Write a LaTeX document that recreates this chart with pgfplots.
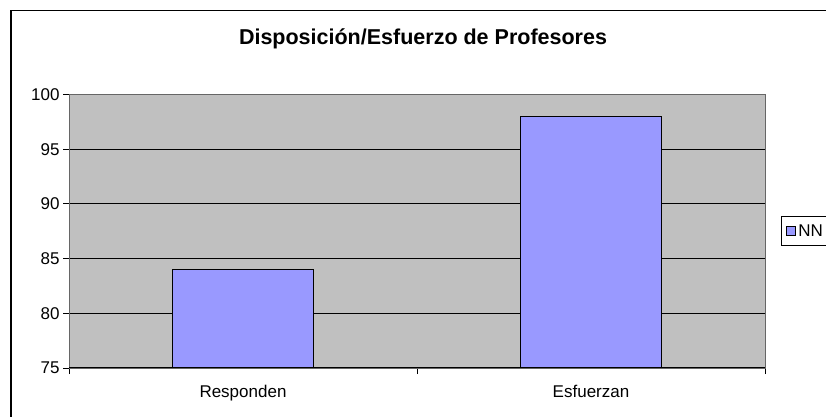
\documentclass[border=0pt]{standalone}
\usepackage{pgfplots}
\pgfplotsset{compat=1.18}
\usepackage{fontspec}
\setmainfont{Liberation Sans}
\definecolor{plotgray}{HTML}{C0C0C0}
\definecolor{barblue}{HTML}{9999FF}
\begin{document}
\begin{tikzpicture}[x=1pt,y=1pt]
\useasboundingbox (0,0) rectangle (826,417);
\clip (0,0) rectangle (826,417);
\fill[white] (0,0) rectangle (826,417);
\draw[line width=1.6pt] (11,-10) -- (11,406.3) -- (840,406.3);
\node[font=\fontsize{21.5}{25}\selectfont\bfseries, anchor=base, inner sep=0pt] at (423,372) {Disposición/Esfuerzo de Profesores};
\begin{axis}[
  at={(69pt,49pt)}, anchor=south west,
  scale only axis, width=696pt, height=273.5pt,
  xmin=0, xmax=2, ymin=75, ymax=100,
  xtick={0,1,2}, x tick label as interval, xticklabels={Responden,Esfuerzan},
  ytick={75,80,...,100},
  ymajorgrids, grid style={black, line width=0.9pt},
  axis background/.style={fill=plotgray},
  axis line style={draw=gray!80!black, line width=0.9pt},
  tick align=outside, major tick length=6pt, tick style={black, line width=0.9pt},
  xtick pos=bottom, ytick pos=left,
  ticklabel style={font=\fontsize{17}{20}\selectfont},
  xticklabel style={yshift=-8pt},
  /pgf/number format/assume math mode=true,
  ybar, bar width=141pt, bar shift=0pt,
  legend style={at={(1.023,0.5)}, anchor=west, draw=black, line width=0.9pt, font=\fontsize{17}{20}\selectfont, inner xsep=5pt, inner ysep=6pt},
  legend image code/.code={\draw[fill=barblue, draw=black, line width=0.9pt] (2pt,-4.5pt) rectangle (11pt,5pt);},
]
\addplot[fill=barblue, draw=black, line width=1.2pt] coordinates {(0.5,84) (1.5,98)};
\addlegendentry{NN}
\draw[black, line width=1.2pt] (rel axis cs:0,0) -- (rel axis cs:1,0);
\end{axis}
\end{tikzpicture}
\end{document}
